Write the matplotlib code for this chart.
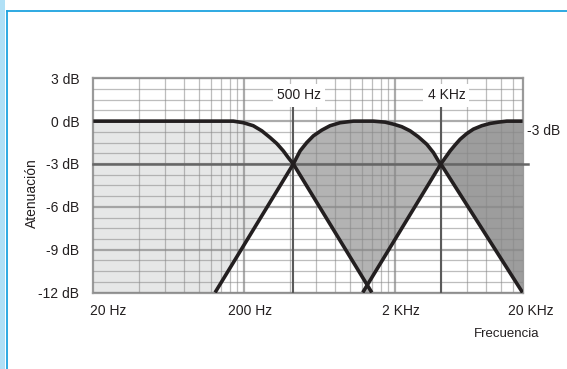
import matplotlib
matplotlib.use("Agg")
import matplotlib.pyplot as plt
from matplotlib import font_manager
from matplotlib.ticker import FixedLocator, NullFormatter
from matplotlib.patches import Rectangle
from matplotlib.lines import Line2D

# condensed Helvetica look in the original; take the closest installed face
installed = {f.name for f in font_manager.fontManager.ttflist}
for fam in ['Liberation Sans Narrow', 'Liberation Sans', 'DejaVu Sans']:
    if fam in installed:
        break
plt.rcParams['font.family'] = [fam, 'DejaVu Sans']
FS = 10

# --- data (Hz, dB) ---
lp_freq = [20, 169, 197, 229, 261, 296, 328, 362, 391, 422, 1396]
lp_db = [0, 0, -0.11, -0.32, -0.68, -1.15, -1.57, -2.08, -2.56, -3, -12]

bp_freq = [128, 422, 468, 518, 573, 651, 739, 861, 1054, 1430, 1710, 1941,
           2204, 2502, 2840, 3228, 3571, 3853, 4000, 13900]
bp_db = [-12, -3, -2.08, -1.5, -1.03, -0.63, -0.32, -0.11, 0, 0, -0.07, -0.21,
         -0.39, -0.68, -1.1, -1.62, -2.2, -2.79, -3, -12]

hp_freq = [1216, 4000, 4612, 4976, 5366, 5942, 6572, 7466, 8472, 9616, 10940, 13900]
hp_db = [-12, -3, -2.08, -1.66, -1.27, -0.87, -0.56, -0.32, -0.16, -0.07, 0, 0]

x_labels = ["20 Hz", "200 Hz", "2 KHz", "20 KHz"]
x_label_pos = [20, 200, 2000, 13900]
y_ticks = [3, 0, -3, -6, -9, -12]
y_labels = ["3 dB", "0 dB", "-3 dB", "-6 dB", "-9 dB", "-12 dB"]
cross_freq = [422, 4000]
cross_labels = ["500 Hz", "4 KHz"]

F_MIN, F_MAX = 20, 13900
DB_MIN, DB_MAX = -12, 3
TXT = '#231f20'

fig = plt.figure(figsize=(5.67, 3.69), dpi=100)
ax = fig.add_axes([0.1646, 0.2073, 0.757, 0.5805])
ax.set_xscale('log')
ax.set_xlim(F_MIN, F_MAX)
ax.set_ylim(DB_MIN, DB_MAX)

# --- shaded regions, each filter where it is on top ---
i_lp = lp_db.index(-3)
i_bp1 = bp_db.index(-3)
i_bp2 = len(bp_db) - 2
i_hp = hp_db.index(-3)

lp_poly_x = [F_MIN] + lp_freq[:i_lp + 1] + bp_freq[:i_bp1 + 1][::-1]
lp_poly_y = [DB_MIN] + lp_db[:i_lp + 1] + bp_db[:i_bp1 + 1][::-1]
ax.fill(lp_poly_x, lp_poly_y, color='#e6e7e7', lw=0, zorder=1)

bp_poly_x = bp_freq[i_bp1:i_bp2 + 1] + hp_freq[:i_hp + 1][::-1] + lp_freq[i_lp:][::-1]
bp_poly_y = bp_db[i_bp1:i_bp2 + 1] + hp_db[:i_hp + 1][::-1] + lp_db[i_lp:][::-1]
ax.fill(bp_poly_x, bp_poly_y, color='#b3b3b3', lw=0, zorder=1)

hp_poly_x = hp_freq[i_hp:] + bp_freq[i_bp2:][::-1]
hp_poly_y = hp_db[i_hp:] + bp_db[i_bp2:][::-1]
ax.fill(hp_poly_x, hp_poly_y, color='#9d9d9d', lw=0, zorder=1)

# --- grid ---
minor_x = [b * k for b in (20, 200, 2000) for k in range(2, 10) if b * k < F_MAX]
ax.xaxis.set_major_locator(FixedLocator([200, 2000]))
ax.xaxis.set_minor_locator(FixedLocator(minor_x))
ax.xaxis.set_major_formatter(NullFormatter())
ax.xaxis.set_minor_formatter(NullFormatter())
ax.yaxis.set_major_locator(FixedLocator(y_ticks))
ax.yaxis.set_minor_locator(FixedLocator([DB_MIN + 0.75 * i for i in range(21)]))
ax.set_yticklabels(y_labels)
ax.tick_params(which='both', length=0)
ax.tick_params(axis='y', pad=10, labelsize=FS, labelcolor=TXT)
ax.set_axisbelow(False)
ax.grid(which='minor', color='#888888', alpha=0.55, lw=0.9)
ax.grid(which='major', color='#888888', alpha=0.7, lw=1.6)
for s in ax.spines.values():
    s.set_color('#9a9a9a')
    s.set_linewidth(1.6)

# -3 dB reference line, runs past the right edge
ax.plot([F_MIN, 15200], [-3, -3], color='#666666', lw=1.8, zorder=3, clip_on=False)

# crossover markers with boxed labels
for f, lab in zip(cross_freq, cross_labels):
    ax.plot([f, f], [DB_MIN, 1.0], color='#5a5a5a', lw=1.5, zorder=3)
    ax.annotate(lab, (f, 1.8), xytext=(4, 0), textcoords='offset points',
                ha='center', va='center', fontsize=FS, color=TXT, zorder=4,
                bbox=dict(boxstyle='square,pad=0.3', fc='white', ec='none'))

# --- response curves ---
for fx, dy in ((lp_freq, lp_db), (bp_freq, bp_db), (hp_freq, hp_db)):
    ax.plot(fx, dy, color=TXT, lw=2.6, solid_capstyle='butt',
            solid_joinstyle='round', zorder=5)

# --- labels ---
x_offsets = [11, 4, 4, 6]
for f, lab, dx in zip(x_label_pos, x_labels, x_offsets):
    ax.annotate(lab, (f, DB_MIN), xytext=(dx, -13), textcoords='offset points',
                ha='center', va='center', fontsize=FS, color=TXT,
                annotation_clip=False)

ax.text(14900, -0.7, "-3 dB", ha='left', va='center', fontsize=FS,
        color=TXT, clip_on=False)
fig.text(32 / 567, 1 - 193 / 369, "Atenuación", rotation=90, ha='center',
         va='center', fontsize=FS, color=TXT)
fig.text(507 / 567, 1 - 334 / 369, "Frecuencia", ha='center', va='center',
         fontsize=9.5, color=TXT)

# --- blue frame ---
fig.patches.append(Rectangle((0, 0), 5 / 567, 1, transform=fig.transFigure,
                             color='#b0e0f6', lw=0))
fig.lines.append(Line2D([6.5 / 567, 6.5 / 567], [0, 1 - 11 / 369],
                        transform=fig.transFigure, color='#1ea3df', lw=1.3))
fig.lines.append(Line2D([6.5 / 567, 1], [1 - 11 / 369, 1 - 11 / 369],
                        transform=fig.transFigure, color='#1ea3df', lw=1.3))

fig.savefig("out.png", dpi=100)
